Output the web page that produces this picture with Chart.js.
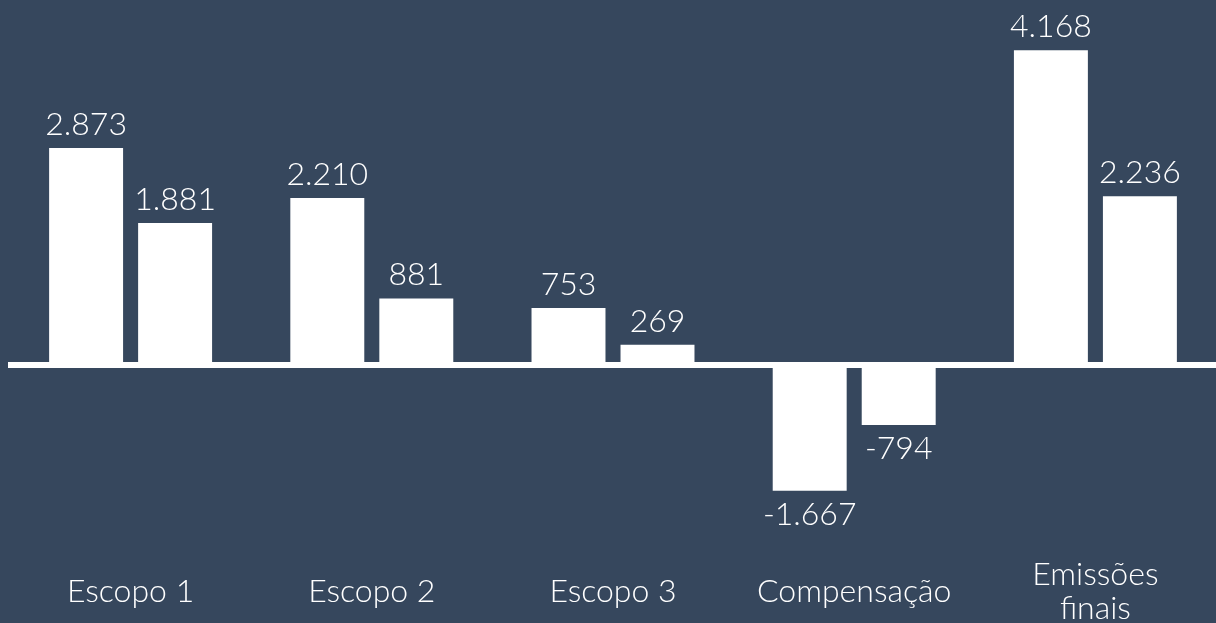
<!DOCTYPE html>
<html lang="pt-BR">
<head>
<meta charset="utf-8">
<script src="https://cdn.jsdelivr.net/npm/chart.js@4"></script>
<style>
  html, body { margin: 0; padding: 0; background: #36475D; overflow: hidden; }
  #wrap { width: 1216px; height: 623px; position: relative; }
</style>
</head>
<body>
<div id="wrap"><canvas id="chart"></canvas></div>
<script>
// Categorias e valores (tCO2e)
const categories = ['Escopo 1', 'Escopo 2', 'Escopo 3', 'Compensação', ['Emissões', 'finais']];
const serie1 = [2873, 2210, 753, -1667, 4168];
const serie2 = [1881, 881, 269, -794, 2236];

const FONT = 'Lato, "Open Sans", sans-serif';

// Formata com ponto como separador de milhar
function fmt(v) {
  return String(v).replace(/\B(?=(\d{3})+(?!\d))/g, '.');
}

// Linha branca grossa no zero
const zeroLine = {
  id: 'zeroLine',
  beforeDatasetsDraw(chart) {
    const { ctx, chartArea, scales } = chart;
    const y0 = scales.y.getPixelForValue(0);
    ctx.save();
    ctx.strokeStyle = '#ffffff';
    ctx.lineWidth = 6;
    ctx.beginPath();
    ctx.moveTo(chartArea.left - 2, y0);
    ctx.lineTo(chartArea.right, y0);
    ctx.stroke();
    ctx.restore();
  }
};

// Desenha o valor em cima (ou embaixo) de cada barra
const valueLabels = {
  id: 'valueLabels',
  afterDatasetsDraw(chart) {
    const ctx = chart.ctx;
    ctx.save();
    ctx.font = '300 32px ' + FONT;
    ctx.fillStyle = '#ffffff';
    ctx.textAlign = 'center';
    ctx.textBaseline = 'alphabetic';
    chart.data.datasets.forEach((ds, i) => {
      chart.getDatasetMeta(i).data.forEach((bar, j) => {
        const v = ds.data[j];
        if (v >= 0) {
          ctx.fillText(fmt(v), bar.x, bar.y - 13);
        } else {
          ctx.fillText(fmt(v), bar.x, bar.y + 34);
        }
      });
    });
    ctx.restore();
  }
};

const ctx = document.getElementById('chart').getContext('2d');
new Chart(ctx, {
  type: 'bar',
  data: {
    labels: categories,
    datasets: [
      { label: 'Série 1', data: serie1, backgroundColor: '#ffffff', borderWidth: 0 },
      { label: 'Série 2', data: serie2, backgroundColor: '#ffffff', borderWidth: 0 }
    ]
  },
  options: {
    responsive: true,
    maintainAspectRatio: false,
    animation: false,
    categoryPercentage: 0.738,
    barPercentage: 0.831,
    layout: { padding: { left: 10, right: 0, top: 0, bottom: 0 } },
    plugins: {
      legend: { display: false },
      tooltip: { enabled: false }
    },
    scales: {
      x: {
        grid: { display: false },
        border: { display: false },
        afterFit: scale => { scale.height = 60; },
        ticks: {
          color: '#ffffff',
          padding: 4,
          crossAlign: 'center',
          maxRotation: 0,
          autoSkip: false,
          font: { family: FONT, size: 32, weight: '300', lineHeight: 1.05 }
        }
      },
      y: {
        display: false,
        min: -2623,
        max: 4834
      }
    }
  },
  plugins: [zeroLine, valueLabels]
});
</script>
</body>
</html>
